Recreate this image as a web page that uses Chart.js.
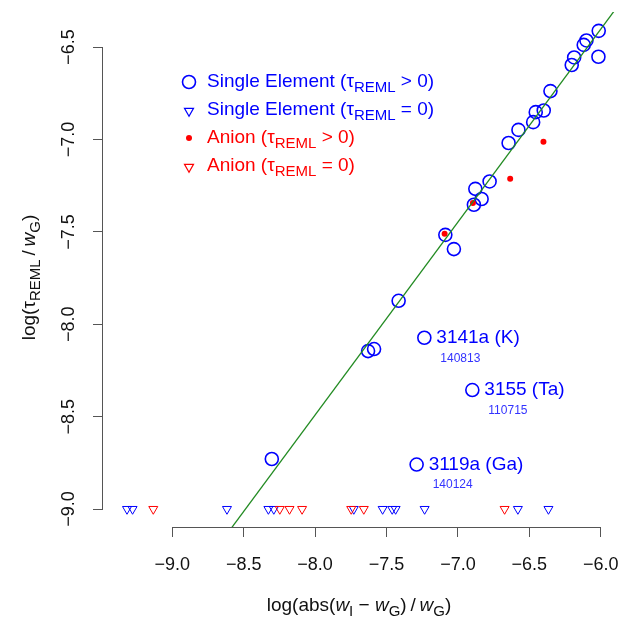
<!DOCTYPE html>
<html>
<head>
<meta charset="utf-8">
<script src="https://cdn.jsdelivr.net/npm/chart.js@4.4.1/dist/chart.umd.min.js"></script>
<style>
  html, body { margin: 0; padding: 0; background: #fff; }
  #wrap { width: 625px; height: 618px; }
</style>
</head>
<body>
<div id="wrap"><canvas id="chart" width="625" height="618"></canvas></div>
<script>
// log(tau_REML / wG) against log(abs(wI - wG) / wG), one point per reference material.

// Single element, tau_REML > 0 (open circles)
const SE_X = [-6.014, -6.100, -6.119, -6.016, -6.186, -6.203, -6.352, -6.399, -6.455, -6.473, -6.576,
  -6.645, -6.778, -6.878, -6.834, -6.888, -7.088, -7.028, -7.415, -7.629, -7.587, -8.303];
const SE_Y = [-6.412, -6.464, -6.488, -6.552, -6.556, -6.597, -6.738, -6.843, -6.852, -6.906, -6.948,
  -7.019, -7.227, -7.267, -7.322, -7.353, -7.516, -7.593, -7.873, -8.145, -8.134, -8.729];

// labelled outliers (also single element, tau_REML > 0)
const OUT_X = [-7.235, -6.899, -7.289];
const OUT_Y = [-8.073, -8.356, -8.759];
const OUT_NAMES = ['3141a (K)', '3155 (Ta)', '3119a (Ga)'];
const OUT_DATES = ['140813', '110715', '140124'];

// Anion, tau_REML > 0 (filled dots)
const AN_X = [-6.401, -6.634, -6.895, -7.093];
const AN_Y = [-7.012, -7.213, -7.344, -7.510];

// tau_REML = 0, plotted on the floor value
const FLOOR = -9.0;
const SE0_X = [-9.317, -9.278, -8.617, -8.327, -8.289, -7.729, -7.527, -7.460, -7.436, -7.233, -6.580, -6.366];
const AN0_X = [-9.133, -8.247, -8.179, -8.091, -7.747, -7.659, -6.673];

// fitted line
const FIT_SLOPE = 1.044;
const FIT_INTERCEPT = -0.139;

const X_TICKS = [-9.0, -8.5, -8.0, -7.5, -7.0, -6.5, -6.0];
const Y_TICKS = [-9.0, -8.5, -8.0, -7.5, -7.0, -6.5];
const X_MIN = -9.485, X_MAX = -5.90;
const Y_MIN = -9.097, Y_MAX = -6.31;

const BLUE = '#0000ff';
const RED = '#ff0000';
const GREEN = '#228b22';
const AXIS = '#555';
const FONT = '"Liberation Sans", Arial, Helvetica, sans-serif';

const fmt = (v) => v.toFixed(1).replace('-', '\u2212');
const pts = (xs, ys) => xs.map((x, i) => ({ x, y: Array.isArray(ys) ? ys[i] : ys }));

// ── rich text (subscripts / italics) ─────────────────────────────────────────
function segFont(s, size) {
  const sz = s.sub ? Math.round(size * 0.78) : size;
  return `${s.it ? 'italic ' : ''}${sz}px ${FONT}`;
}
function richWidth(ctx, segs, size) {
  let w = 0;
  for (const s of segs) { ctx.font = segFont(s, size); w += ctx.measureText(s.t).width; }
  return w;
}
function drawRich(ctx, segs, x, y, size, color, align = 'left') {
  let cx = align === 'center' ? x - richWidth(ctx, segs, size) / 2 : x;
  ctx.fillStyle = color;
  ctx.textBaseline = 'middle';
  ctx.textAlign = 'left';
  for (const s of segs) {
    ctx.font = segFont(s, size);
    ctx.fillText(s.t, cx, s.sub ? y + size * 0.3 : y);
    cx += ctx.measureText(s.t).width;
  }
}

const tau = (rel) => [{ t: '(\u03c4' }, { t: 'REML', sub: true }, { t: ' ' + rel + ' 0)' }];
const LEGEND = [
  { segs: [{ t: 'Single Element ' }, ...tau('>')], color: BLUE, sym: 'circle' },
  { segs: [{ t: 'Single Element ' }, ...tau('=')], color: BLUE, sym: 'tri' },
  { segs: [{ t: 'Anion ' }, ...tau('>')], color: RED, sym: 'dot' },
  { segs: [{ t: 'Anion ' }, ...tau('=')], color: RED, sym: 'tri' },
];
const X_TITLE = [{ t: 'log(abs(' }, { t: 'w', it: true }, { t: 'I', sub: true }, { t: ' \u2212 ' },
  { t: 'w', it: true }, { t: 'G', sub: true }, { t: ')\u2009/\u2009' }, { t: 'w', it: true }, { t: 'G', sub: true }, { t: ')' }];
const Y_TITLE = [{ t: 'log(\u03c4' }, { t: 'REML', sub: true }, { t: '\u2009/\u2009' }, { t: 'w', it: true },
  { t: 'G', sub: true }, { t: ')' }];

// ── R-style axes, titles, legend and point labels ───────────────────────────
const annotate = {
  id: 'annotate',
  afterDraw(chart) {
    const { ctx, chartArea: ca, scales: { x, y } } = chart;
    ctx.save();

    // axis lines only over the tick range
    ctx.strokeStyle = AXIS;
    ctx.lineWidth = 1;
    ctx.beginPath();
    const by = Math.round(ca.bottom) + 0.5, lx = Math.round(ca.left) - 0.5;
    ctx.moveTo(x.getPixelForValue(X_TICKS[0]), by);
    ctx.lineTo(x.getPixelForValue(X_TICKS[X_TICKS.length - 1]), by);
    ctx.moveTo(lx, y.getPixelForValue(Y_TICKS[0]));
    ctx.lineTo(lx, y.getPixelForValue(Y_TICKS[Y_TICKS.length - 1]));
    ctx.stroke();

    // y tick labels, parallel to the axis
    ctx.fillStyle = '#111';
    ctx.font = `18px ${FONT}`;
    ctx.textAlign = 'center';
    ctx.textBaseline = 'middle';
    for (const v of Y_TICKS) {
      ctx.save();
      ctx.translate(ca.left - 34, y.getPixelForValue(v));
      ctx.rotate(-Math.PI / 2);
      ctx.fillText(fmt(v), 0, 0);
      ctx.restore();
    }

    // axis titles
    drawRich(ctx, X_TITLE, (ca.left + ca.right) / 2, 606, 19, '#111', 'center');
    ctx.save();
    ctx.translate(30, (ca.top + ca.bottom) / 2 + 8);
    ctx.rotate(-Math.PI / 2);
    drawRich(ctx, Y_TITLE, 0, 0, 19, '#111', 'center');
    ctx.restore();

    // legend
    const sx = ca.left + 86, tx = ca.left + 104;
    LEGEND.forEach((it, i) => {
      const ly = ca.top + 70 + i * 28;
      ctx.strokeStyle = it.color;
      ctx.fillStyle = it.color;
      if (it.sym === 'circle') {
        ctx.lineWidth = 1.6;
        ctx.beginPath(); ctx.arc(sx, ly, 6.5, 0, Math.PI * 2); ctx.stroke();
      } else if (it.sym === 'dot') {
        ctx.beginPath(); ctx.arc(sx, ly, 3, 0, Math.PI * 2); ctx.fill();
      } else {
        ctx.lineWidth = 1.2;
        ctx.fillStyle = 'rgba(0,0,0,0)';
        Chart.helpers.drawPoint(ctx, { pointStyle: 'triangle', radius: 5.2, rotation: 180, borderWidth: 1.2 }, sx, ly + 1);
      }
      drawRich(ctx, it.segs, tx, ly, 19, it.color);
    });

    // outlier labels
    OUT_NAMES.forEach((name, i) => {
      const px = x.getPixelForValue(OUT_X[i]), py = y.getPixelForValue(OUT_Y[i]);
      ctx.fillStyle = BLUE;
      ctx.textAlign = 'left';
      ctx.textBaseline = 'middle';
      ctx.font = `19px ${FONT}`;
      ctx.fillText(name, px + 12, py);
      ctx.fillStyle = '#3333ff';
      ctx.font = `12px ${FONT}`;
      ctx.fillText(OUT_DATES[i], px + 16, py + 20.5);
    });

    ctx.restore();
  },
};

const fitLine = [X_MIN, X_MAX].map((v) => ({ x: v, y: FIT_INTERCEPT + FIT_SLOPE * v }));

new Chart(document.getElementById('chart'), {
  type: 'scatter',
  data: {
    datasets: [
      { type: 'line', label: 'fit', data: fitLine, borderColor: GREEN, borderWidth: 1.3, pointRadius: 0, fill: false },
      { label: 'Anion >0', data: pts(AN_X, AN_Y), pointStyle: 'circle', pointRadius: 3, backgroundColor: RED, borderColor: RED, borderWidth: 0 },
      { label: 'Single >0', data: pts(SE_X.concat(OUT_X), SE_Y.concat(OUT_Y)), pointStyle: 'circle', pointRadius: 6.5,
        backgroundColor: 'rgba(0,0,0,0)', borderColor: BLUE, borderWidth: 1.6 },
      { label: 'Anion =0', data: pts(AN0_X, FLOOR), pointStyle: 'triangle', rotation: 180, pointRadius: 5.2,
        backgroundColor: 'rgba(0,0,0,0)', borderColor: RED, borderWidth: 1 },
      { label: 'Single =0', data: pts(SE0_X, FLOOR), pointStyle: 'triangle', rotation: 180, pointRadius: 5.2,
        backgroundColor: 'rgba(0,0,0,0)', borderColor: BLUE, borderWidth: 1 },
    ],
  },
  options: {
    responsive: false,
    animation: false,
    events: [],
    layout: { padding: { top: 12, right: 10, left: 0, bottom: 0 } },
    plugins: { legend: { display: false }, tooltip: { enabled: false } },
    scales: {
      x: {
        type: 'linear', min: X_MIN, max: X_MAX,
        afterBuildTicks: (s) => { s.ticks = X_TICKS.map((v) => ({ value: v })); },
        afterFit: (s) => { s.height = 91; s.paddingLeft = 0; s.paddingRight = 0; },
        border: { display: false },
        grid: { drawOnChartArea: false, drawTicks: true, tickLength: 10, color: AXIS },
        ticks: { padding: 17, color: '#111', font: { family: FONT, size: 18 }, maxRotation: 0, callback: (v) => fmt(v) },
      },
      y: {
        type: 'linear', min: Y_MIN, max: Y_MAX,
        afterBuildTicks: (s) => { s.ticks = Y_TICKS.map((v) => ({ value: v })); },
        afterFit: (s) => { s.width = 103; s.paddingTop = 0; s.paddingBottom = 0; },
        border: { display: false },
        grid: { drawOnChartArea: false, drawTicks: true, tickLength: 10, color: AXIS },
        ticks: { display: false },
      },
    },
  },
  plugins: [annotate],
});
</script>
</body>
</html>
